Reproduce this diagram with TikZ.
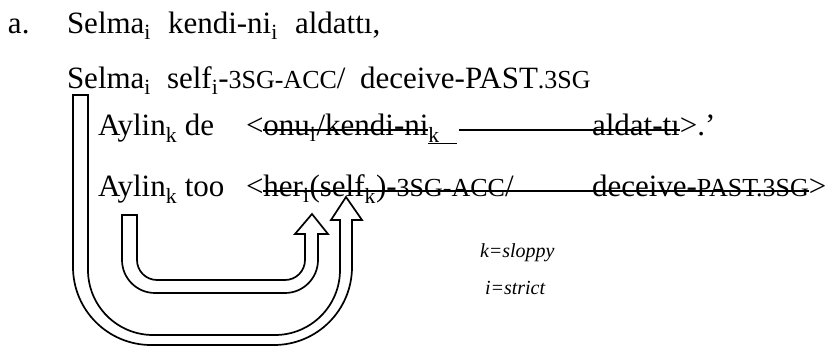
\documentclass[tikz,border=0pt]{standalone}
\usepackage{fontspec}
\setmainfont{Liberation Serif}
\newcommand\sbs[1]{\textsubscript{#1}}
\newcommand\smcap[1]{{\fontsize{26}{28}\selectfont #1}}
\tikzset{
  w/.style={anchor=base west, inner sep=0pt, outer sep=0pt, font=\fontsize{31}{36}\selectfont},
  note/.style={anchor=base west, inner sep=0pt, outer sep=0pt, font=\fontsize{20}{24}\selectfont\itshape},
  strike/.style={line width=1.4pt},
  thinstrike/.style={line width=0.9pt},
  hollow/.style={line width=1.7pt, line join=miter}
}
\begin{document}
\begin{tikzpicture}[x=1pt, y=-1pt]
\useasboundingbox (0,0) rectangle (836,347);
% line 1
\node[w] (a) at (8,34) {a.};
\node[w] (s1) at (67,34) {Selma\sbs{i}};
\node[w] (k1) at (168,34) {kendi-ni\sbs{i}};
\node[w] (al1) at (295,34) {aldattı,};
% line 2
\node[w] (s2) at (67,89) {Selma\sbs{i}};
\node[w] (self2) at (167,89) {self\sbs{i}-\smcap{3SG-ACC}/};
\node[w] (dec2) at (360,89) {deceive-PAST\smcap{.3SG}};
% line 3
\node[w] (ay3) at (98,136) {Aylin\sbs{k} de};
\node[w] (lt3) at (246,136) {<};
\node[w] (onu) at (lt3.base east) {onu\sbs{i}/kendi-ni};
\node[w] (k3) at (onu.base east) {\sbs{k}};
\node[w] (ald3) at (592,136) {aldat-tı};
\node[w] (end3) at (ald3.base east) {>.'};
\coordinate (k3end) at (457,143);
\coordinate (ls3) at (459,130);
\draw[strike] ([yshift=6pt]onu.base west) -- ([yshift=6pt]onu.base east);
\draw[thinstrike] ([yshift=-7pt]k3.base west) -- (k3end);
\draw[strike] (ls3) -- ([yshift=6pt]ald3.base east);
% line 4
\node[w] (ay4) at (98,197) {Aylin\sbs{k} too};
\node[w] (lt4) at (246,197) {<};
\node[w] (her4) at (lt4.base east) {her\sbs{i}(self\sbs{k})-\smcap{3SG-ACC}/};
\node[w] (dec4) at (592,197) {deceive-\smcap{PAST.3SG}};
\node[w] (gt4) at (dec4.base east) {>};
\draw[strike] ([yshift=6pt]her4.base west) -- ([yshift=6pt]dec4.base east);
% notes
\node[note] (kn) at (480,258) {k=sloppy};
\node[note] (in) at (485,295) {i=strict};
% big hollow arrow
\draw[hollow] (73,95) -- (88,95) -- (88,270)
  arc[start angle=180, end angle=270, radius=65pt] -- (275,335)
  arc[start angle=270, end angle=360, radius=65pt] -- (340,220) -- (331,220) -- (346,197) -- (362,220) -- (352,220) -- (352,267)
  arc[start angle=0, end angle=-90, radius=78pt] -- (151,345)
  arc[start angle=-90, end angle=-180, radius=78pt] -- cycle;
% small hollow arrow
\draw[hollow] (122,215) -- (137,215) -- (137,260)
  arc[start angle=180, end angle=270, radius=20pt] -- (285,280)
  arc[start angle=270, end angle=360, radius=20pt] -- (305,234) -- (295,234) -- (312,214) -- (328,234) -- (318,234) -- (318,260)
  arc[start angle=0, end angle=-90, radius=33pt] -- (155,293)
  arc[start angle=-90, end angle=-180, radius=33pt] -- cycle;
\end{tikzpicture}
\end{document}
